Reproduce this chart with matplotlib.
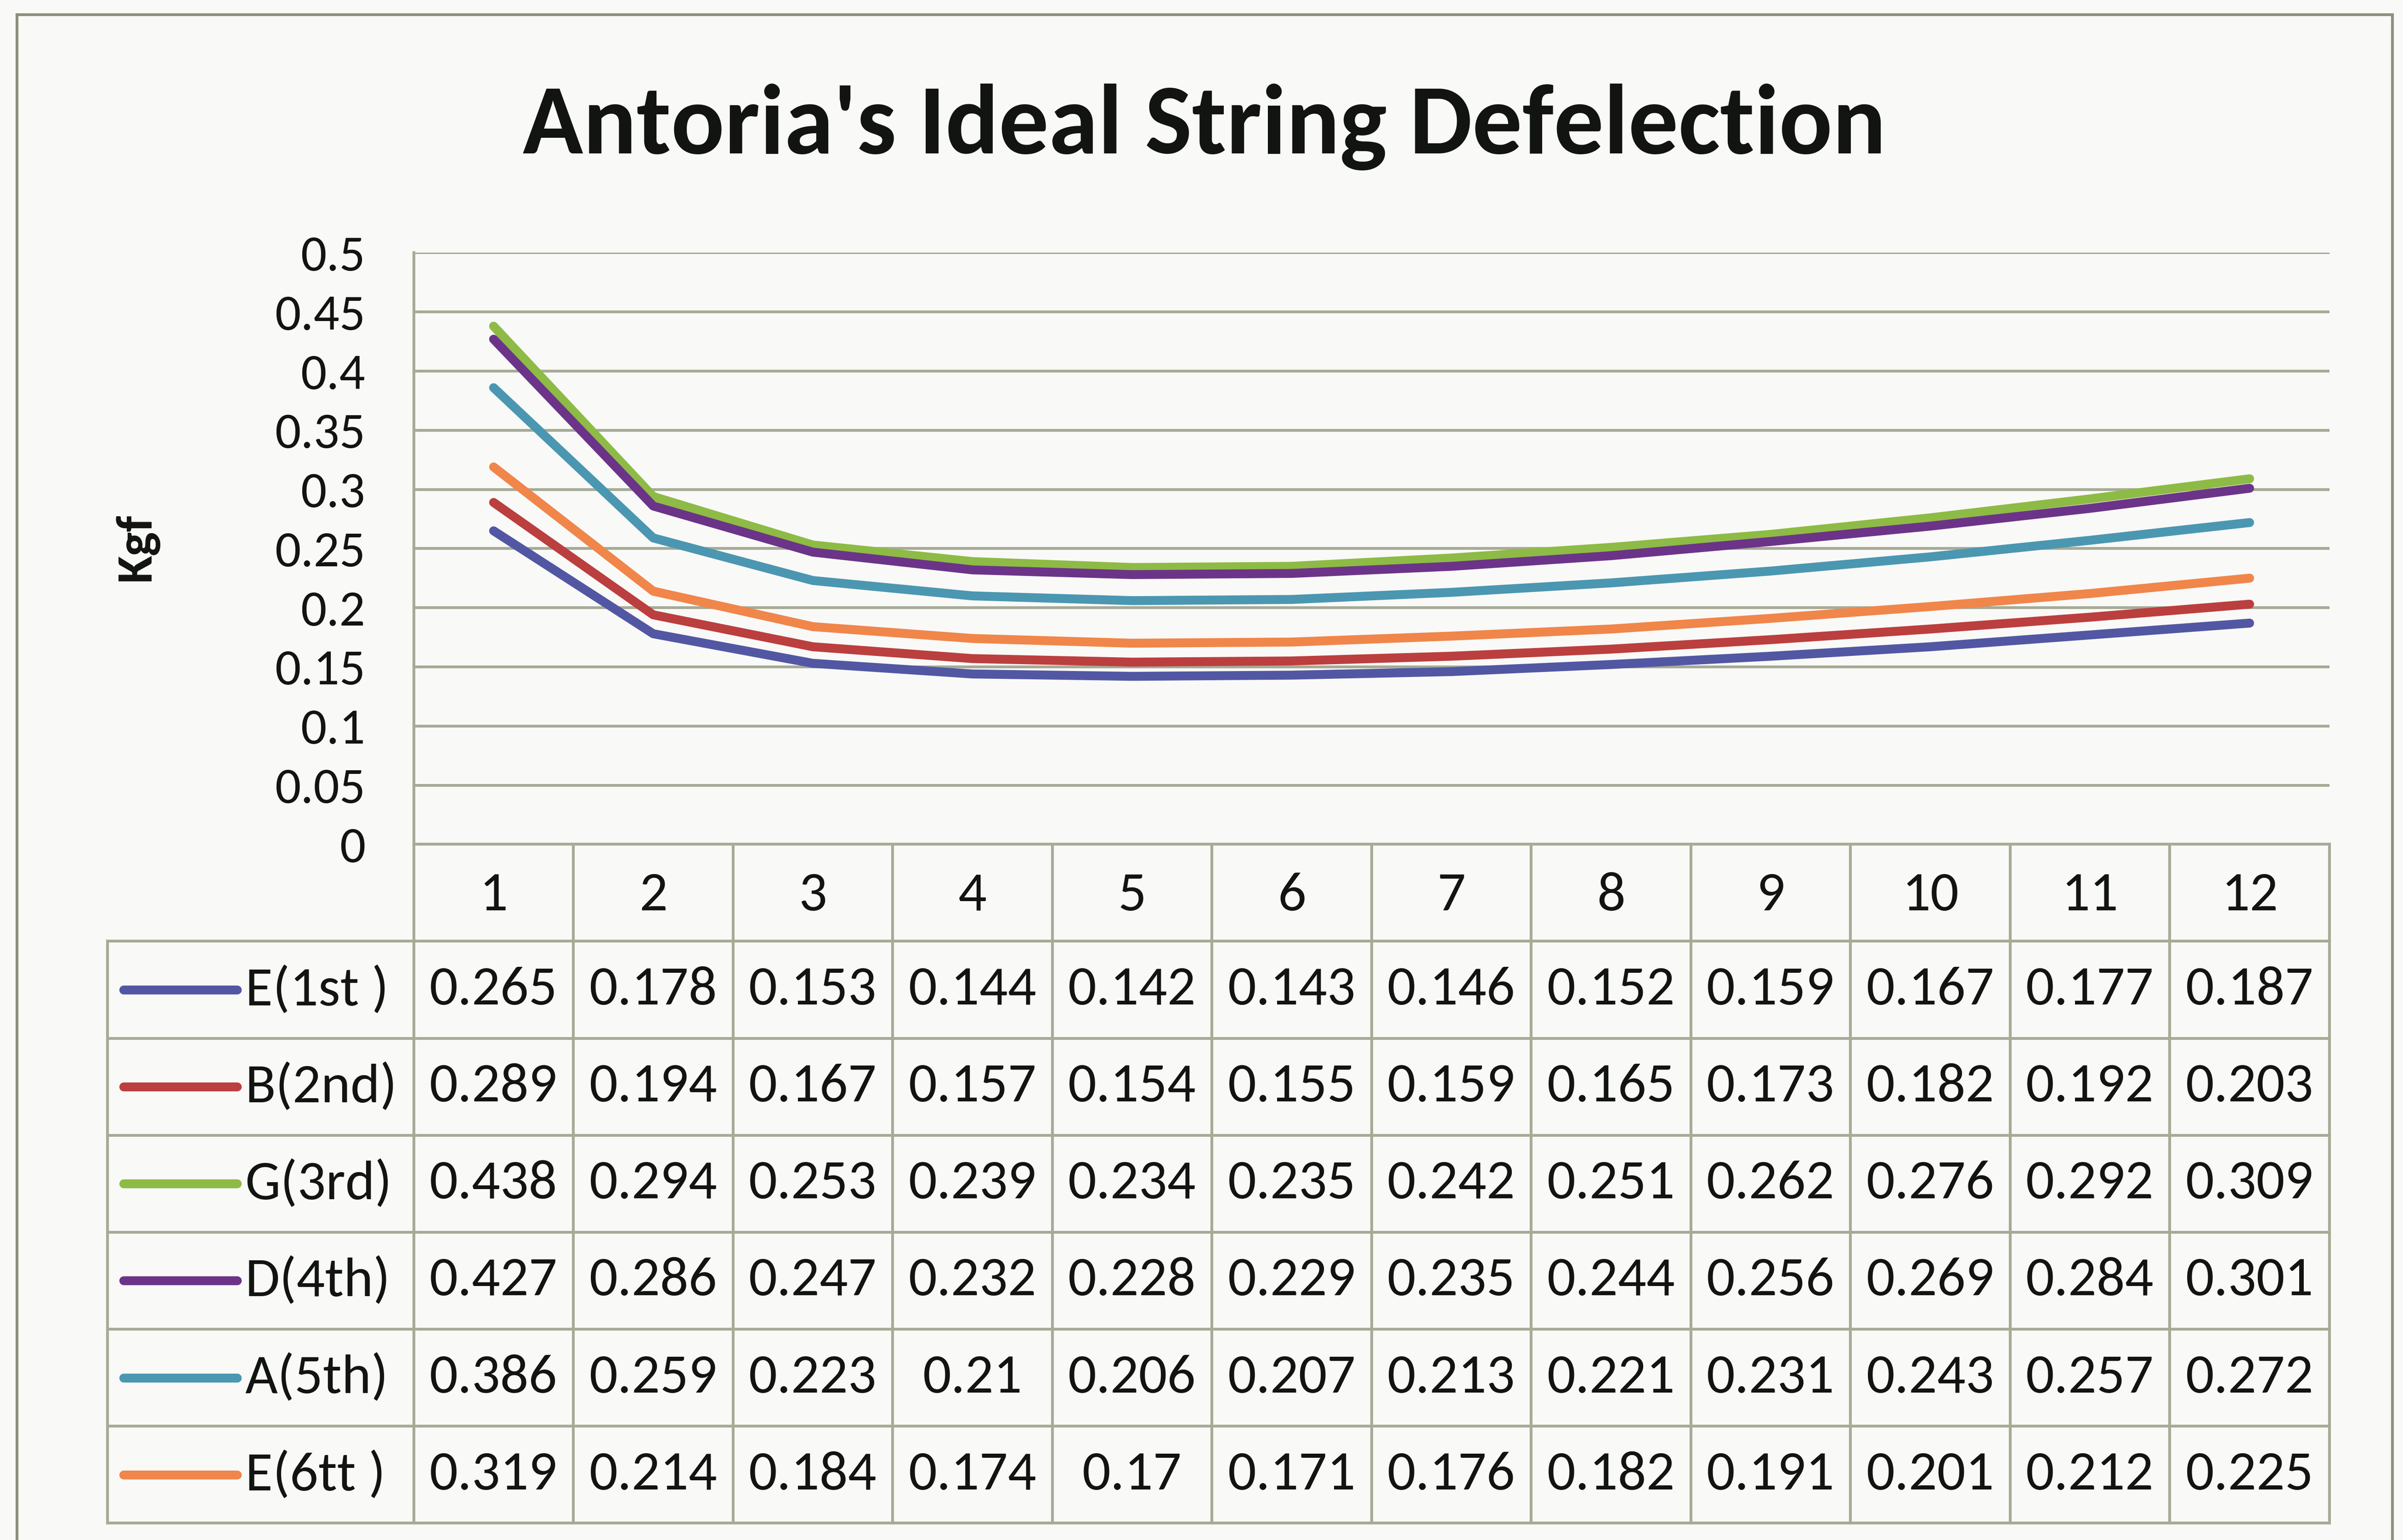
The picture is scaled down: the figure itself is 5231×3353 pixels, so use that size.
import matplotlib
matplotlib.use("Agg")
import matplotlib.pyplot as plt
from matplotlib.lines import Line2D

plt.rcParams['font.family'] = ['Carlito', 'Lato', 'DejaVu Sans']

##########
#  Data  #
##########
positions = [1, 2, 3, 4, 5, 6, 7, 8, 9, 10, 11, 12]
string_names = ["E(1st )", "B(2nd)", "G(3rd)", "D(4th)", "A(5th)", "E(6tt )"]
e1_force = [0.265, 0.178, 0.153, 0.144, 0.142, 0.143, 0.146, 0.152, 0.159, 0.167, 0.177, 0.187]
b2_force = [0.289, 0.194, 0.167, 0.157, 0.154, 0.155, 0.159, 0.165, 0.173, 0.182, 0.192, 0.203]
g3_force = [0.438, 0.294, 0.253, 0.239, 0.234, 0.235, 0.242, 0.251, 0.262, 0.276, 0.292, 0.309]
d4_force = [0.427, 0.286, 0.247, 0.232, 0.228, 0.229, 0.235, 0.244, 0.256, 0.269, 0.284, 0.301]
a5_force = [0.386, 0.259, 0.223, 0.21, 0.206, 0.207, 0.213, 0.221, 0.231, 0.243, 0.257, 0.272]
e6_force = [0.319, 0.214, 0.184, 0.174, 0.17, 0.171, 0.176, 0.182, 0.191, 0.201, 0.212, 0.225]
y_ticks = [0, 0.05, 0.1, 0.15, 0.2, 0.25, 0.3, 0.35, 0.4, 0.45, 0.5]

series = [e1_force, b2_force, g3_force, d4_force, a5_force, e6_force]
colors = ["#5257a3", "#bb3f3e", "#8dbb45", "#6c3488", "#4b97b1", "#f0864a"]

grid_col = "#a6ab96"
text_col = "#111411"
bg_col = "#f9f9f7"

#################
#  Figure setup #
#################
W, H = 1568.0, 1005.0  # layout reference frame
fig = plt.figure(figsize=(26.155, 16.765), dpi=200, facecolor=bg_col)

def fx(x):
    return x / W

def fy(y):
    return 1 - y / H

# outer chart border (bottom edge cut off in the scan)
for xs, ys in [([11, 11], [9.5, 1010]), ([11, 1561], [9.5, 9.5]), ([1561, 1561], [9.5, 1010])]:
    fig.add_artist(Line2D([fx(v) for v in xs], [fy(v) for v in ys], color="#8c917c", lw=2.2))

fig.text(fx(786), fy(100), "Antoria's Ideal String Defelection", ha="center", va="baseline",
         fontsize=78, fontweight="bold", color=text_col)

fig.text(fx(89), fy(357), "Kgf", rotation=90, ha="center", va="center",
         fontsize=40, fontweight="bold", color=text_col)

###############
#  Line plot  #
###############
left, right, top, bottom = 270, 1520, 165, 551
ax = fig.add_axes([fx(left), fy(bottom), fx(right) - fx(left), fy(top) - fy(bottom)])
ax.set_facecolor("none")
for vals, col in zip(series, colors):
    ax.plot(positions, vals, color=col, lw=7, solid_capstyle="round", solid_joinstyle="round")
ax.set_xlim(0.5, 12.5)
ax.set_ylim(0, 0.5)
ax.set_yticks(y_ticks)
ax.set_yticklabels([f"{t:g}" for t in y_ticks])
ax.set_xticks([])
ax.tick_params(axis="y", length=0, pad=38, labelsize=40, labelcolor=text_col)
for t in y_ticks:
    ax.axhline(t, color=grid_col, lw=2.2, zorder=0)
for s in ["top", "right", "bottom"]:
    ax.spines[s].set_visible(False)
ax.spines["left"].set_color(grid_col)
ax.spines["left"].set_linewidth(2.2)

##################
#  Data table    #
##################
tleft, tbottom = 70, 994
unit = (right - left) / 12.0
x0 = 0.5 - (left - tleft) / unit
tab = fig.add_axes([fx(tleft), fy(tbottom), fx(right) - fx(tleft), fy(bottom) - fy(tbottom)])
tab.set_xlim(x0, 12.5)
tab.set_ylim(0, 7)
tab.axis("off")

n_rows = len(series)
# header row
for i, p in enumerate(positions):
    tab.text(p, n_rows + 0.47, str(p), ha="center", va="center", fontsize=44, color=text_col)
for k in range(13):
    tab.plot([0.5 + k, 0.5 + k], [0, n_rows + 1], color=grid_col, lw=2.2, clip_on=False)
tab.plot([0.5, 12.5], [n_rows + 1, n_rows + 1], color=grid_col, lw=2.2, clip_on=False)
for r in range(n_rows + 1):
    tab.plot([x0, 12.5], [r, r], color=grid_col, lw=2.2, clip_on=False)
tab.plot([x0, x0], [0, n_rows], color=grid_col, lw=2.2, clip_on=False)

key_a = x0 + 10.6 / unit
key_b = x0 + 84.7 / unit
lab_x = x0 + 90.0 / unit
for r, (name, vals, col) in enumerate(zip(string_names, series, colors)):
    yc = n_rows - r - 0.5
    tab.plot([key_a, key_b], [yc, yc], color=col, lw=7, solid_capstyle="round")
    tab.text(lab_x, yc, name, ha="left", va="center", fontsize=44, color=text_col)
    for p, v in zip(positions, vals):
        tab.text(p, yc, f"{v:g}", ha="center", va="center", fontsize=44, color=text_col)

fig.savefig("out.png", dpi=200, facecolor=bg_col)
